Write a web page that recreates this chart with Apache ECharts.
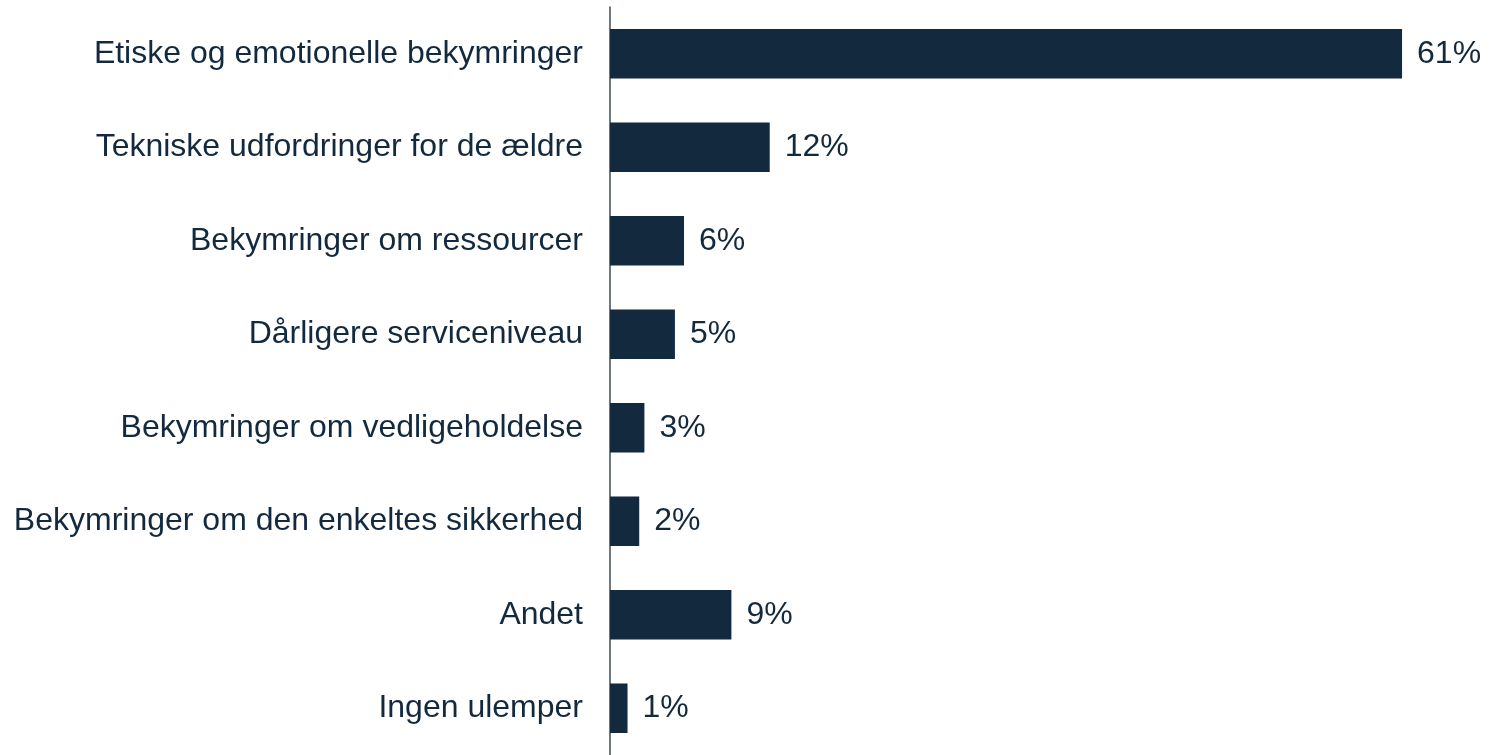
<!DOCTYPE html>
<html>
<head>
<meta charset="utf-8">
<script src="https://cdn.jsdelivr.net/npm/echarts@6/dist/echarts.min.js"></script>
<style>
  html, body { margin: 0; padding: 0; background: #fff; }
  #chart { width: 1509px; height: 755px; }
</style>
</head>
<body>
<div id="chart"></div>
<script>
var categories = [
    'Etiske og emotionelle bekymringer',
    'Tekniske udfordringer for de ældre',
    'Bekymringer om ressourcer',
    'Dårligere serviceniveau',
    'Bekymringer om vedligeholdelse',
    'Bekymringer om den enkeltes sikkerhed',
    'Andet',
    'Ingen ulemper'
];
// andele i procent, aflæst fra søjlerne
var values = [61, 12.3, 5.7, 5.0, 2.65, 2.25, 9.35, 1.35];

var myChart = echarts.init(document.getElementById('chart'));

var option = {
    backgroundColor: '#ffffff',
    animation: false,
    grid: {
        left: 610,
        top: 7,
        width: 844,
        height: 754
    },
    xAxis: {
        type: 'value',
        min: 0,
        max: 65,
        show: false
    },
    yAxis: {
        type: 'category',
        inverse: true,
        data: categories,
        axisLine: {
            show: true,
            lineStyle: { color: '#3d4b5b', width: 1.5 }
        },
        axisTick: { show: false },
        axisLabel: {
            margin: 27,
            color: '#13293d',
            fontFamily: 'Liberation Sans, Arial, sans-serif',
            fontSize: 32,
            padding: [4, 0, 0, 0]
        }
    },
    series: [{
        type: 'bar',
        data: values,
        barCategoryGap: '47%',
        itemStyle: { color: '#13293d' },
        label: {
            show: true,
            position: 'right',
            distance: 15,
            color: '#13293d',
            fontFamily: 'Liberation Sans, Arial, sans-serif',
            fontSize: 32,
            padding: [6, 0, 0, 0],
            formatter: function (p) {
                return Math.round(p.value) + '%';
            }
        }
    }]
};

myChart.setOption(option);
</script>
</body>
</html>
